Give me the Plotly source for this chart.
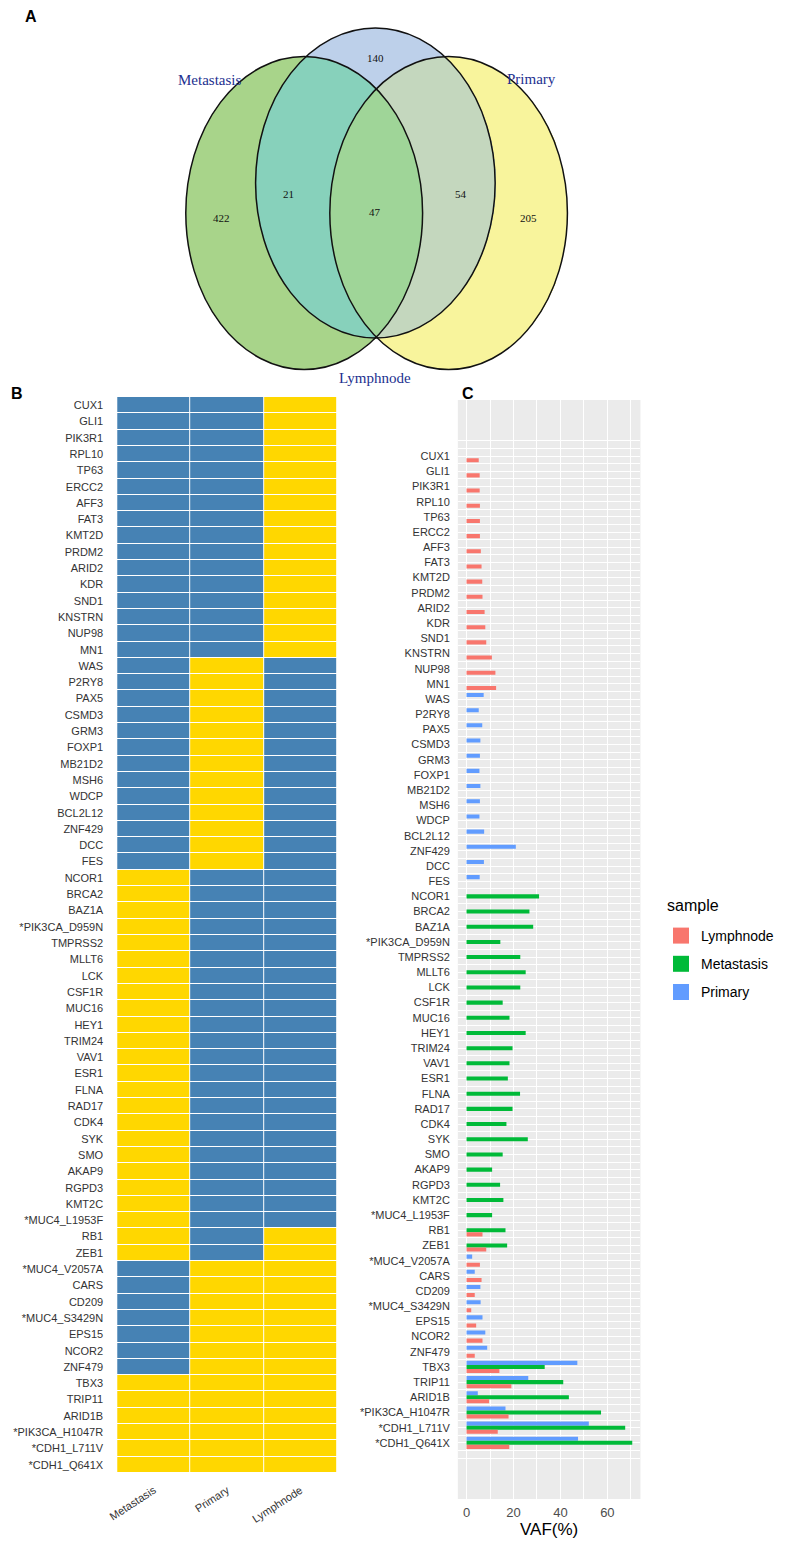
import numpy as np
import plotly.graph_objects as go

# ---------------- data ----------------
genes = [
    "CUX1", "GLI1", "PIK3R1", "RPL10", "TP63", "ERCC2", "AFF3", "FAT3", "KMT2D", "PRDM2",
    "ARID2", "KDR", "SND1", "KNSTRN", "NUP98", "MN1",
    "WAS", "P2RY8", "PAX5", "CSMD3", "GRM3", "FOXP1", "MB21D2", "MSH6", "WDCP", "BCL2L12",
    "ZNF429", "DCC", "FES",
    "NCOR1", "BRCA2", "BAZ1A", "*PIK3CA_D959N", "TMPRSS2", "MLLT6", "LCK", "CSF1R", "MUC16",
    "HEY1", "TRIM24", "VAV1", "ESR1", "FLNA", "RAD17", "CDK4", "SYK", "SMO", "AKAP9", "RGPD3",
    "KMT2C", "*MUC4_L1953F",
    "RB1", "ZEB1",
    "*MUC4_V2057A", "CARS", "CD209", "*MUC4_S3429N", "EPS15", "NCOR2", "ZNF479",
    "TBX3", "TRIP11", "ARID1B", "*PIK3CA_H1047R", "*CDH1_L711V", "*CDH1_Q641X",
]
N = None
vaf_lymphnode = [
    5.2, 5.6, 5.6, 5.7, 5.7, 5.7, 6.1, 6.4, 6.7, 6.8, 7.7, 8.0, 8.4, 10.8, 12.3, 12.6,
    N, N, N, N, N, N, N, N, N, N, N, N, N,
    N, N, N, N, N, N, N, N, N, N, N, N, N, N, N, N, N, N, N, N, N, N,
    6.8, 8.4,
    5.7, 6.4, 3.5, 2.0, 4.1, 6.8, 3.5,
    14.0, 19.1, 9.6, 17.9, 13.3, 18.2,
]
vaf_metastasis = [
    N, N, N, N, N, N, N, N, N, N, N, N, N, N, N, N,
    N, N, N, N, N, N, N, N, N, N, N, N, N,
    30.9, 26.8, 28.4, 14.4, 22.9, 25.2, 22.9, 15.4, 18.3, 25.2, 19.6, 18.3, 17.6, 22.8, 19.6,
    17.0, 26.1, 15.4, 10.9, 14.3, 15.7, 10.9,
    16.6, 17.3,
    N, N, N, N, N, N, N,
    33.3, 41.2, 43.6, 57.3, 67.6, 70.6,
]
vaf_primary = [
    N, N, N, N, N, N, N, N, N, N, N, N, N, N, N, N,
    7.3, 5.2, 6.7, 5.9, 5.7, 5.5, 5.9, 5.7, 5.5, 7.5, 21.0, 7.4, 5.6,
    N, N, N, N, N, N, N, N, N, N, N, N, N, N, N, N, N, N, N, N, N, N,
    N, N,
    2.4, 3.5, 5.9, 6.0, 6.8, 8.0, 8.8,
    47.2, 26.3, 4.8, 16.6, 52.1, 47.5,
]
heat_columns = ["Metastasis", "Primary", "Lymphnode"]
x_ticks = [0, 20, 40, 60]

venn_sets = ["Metastasis", "Lymphnode", "Primary"]
venn_region_names = ["Metastasis", "Lymphnode", "Primary",
                     "Metastasis&Lymphnode", "All", "Lymphnode&Primary"]
venn_region_counts = [422, 140, 205, 21, 47, 54]

# ---------------- styling / layout ----------------
PAGE_W, PAGE_H = 787, 1551
OFF = 8                      # default page body margin
W, H = PAGE_W - 2 * OFF, PAGE_H - 2 * OFF
FONT = "Liberation Sans, Arial, sans-serif"
SERIF = "Liberation Serif, Times New Roman, serif"
TXT = "#333333"
sample_colors = {"Lymphnode": "#F8766D", "Metastasis": "#00BA38", "Primary": "#619CFF"}


def px(p):  # page pixel x -> paper
    return (p - OFF) / W


def py(p):  # page pixel y (from top) -> paper
    return 1 - (p - OFF) / H


fig = go.Figure()

# ---------- Panel A: Venn (geometry only, counts from lists) ----------
ell = {  # cx, cy, rx, ry in page pixels
    "Metastasis": (300.5, 213.0, 120.6, 156.5),
    "Lymphnode": (373.0, 183.0, 122.0, 155.0),
    "Primary": (447.6, 213.0, 121.0, 156.5),
}
gx = np.arange(170, 582) + 0.5
gy = np.arange(18, 380) + 0.5
XX, YY = np.meshgrid(gx, gy)
code = np.zeros_like(XX, dtype=int)
for bit, s in zip([1, 2, 4], venn_sets):
    cx, cy, rx, ry = ell[s]
    inside = ((XX - cx) / rx) ** 2 + ((YY - cy) / ry) ** 2 <= 1
    code += bit * inside
zc = np.where(code == 0, np.nan, code).astype(float)
region_cols = ["#A8D48A", "#BDD0EA", "#87D1BB", "#F8F49C", "#C2DA92", "#C4D7BE", "#9FD598"]
cs = []
for k, c in enumerate(region_cols):
    cs.append([k / 7, c])
    cs.append([(k + 1) / 7, c])
fig.add_trace(go.Heatmap(z=zc, x=gx, y=gy, colorscale=cs, zmin=0.5, zmax=7.5,
                         showscale=False, hoverinfo="skip", xaxis="x3", yaxis="y3",
                         zsmooth=False, showlegend=False))
shapes = []
for s in venn_sets:
    cx, cy, rx, ry = ell[s]
    shapes.append(dict(type="circle", xref="x3", yref="y3", x0=cx - rx, x1=cx + rx,
                       y0=cy - ry, y1=cy + ry, line=dict(color="#111111", width=1.5),
                       fillcolor="rgba(0,0,0,0)", layer="above"))

count_pos = {
    "Metastasis": (216, 218), "Lymphnode": (373, 58), "Primary": (529, 218),
    "Metastasis&Lymphnode": (285, 194), "All": (373, 212), "Lymphnode&Primary": (460, 194),
}
set_label_pos = {"Metastasis": (204, 80), "Primary": (532, 79), "Lymphnode": (373, 378)}
annotations = []
for name, cnt in zip(venn_region_names, venn_region_counts):
    x, y = count_pos[name]
    annotations.append(dict(x=x, y=y, xref="x3", yref="y3", text=str(cnt), showarrow=False,
                            font=dict(family=SERIF, size=11, color="#111111")))
for s in venn_sets:
    x, y = set_label_pos[s]
    annotations.append(dict(x=x, y=y, xref="x3", yref="y3", text=s, showarrow=False,
                            font=dict(family=SERIF, size=15, color="#23308F")))

# ---------- Panel B: presence heatmap ----------
z_presence = [[0 if v is None else 1 for v in row]
              for row in zip(vaf_metastasis, vaf_primary, vaf_lymphnode)]
fig.add_trace(go.Heatmap(z=z_presence, x=heat_columns, y=genes,
                         colorscale=[[0, "#4682B4"], [1, "#FFD700"]], zmin=0, zmax=1,
                         showscale=False, xgap=1, ygap=1, hoverinfo="skip",
                         xaxis="x", yaxis="y", showlegend=False))

# ---------- Panel C: VAF bars ----------
idx = list(range(len(genes)))
rank = {"Lymphnode": 1, "Metastasis": 2, "Primary": 3}
for name, vals in [("Primary", vaf_primary), ("Metastasis", vaf_metastasis),
                   ("Lymphnode", vaf_lymphnode)]:
    fig.add_trace(go.Bar(x=vals, y=idx, orientation="h", name=name,
                         marker=dict(color=sample_colors[name], line=dict(width=0)),
                         xaxis="x2", yaxis="y2", showlegend=False, hoverinfo="skip"))
# legend keys (square swatches like ggplot's fill legend)
for name in ["Lymphnode", "Metastasis", "Primary"]:
    fig.add_trace(go.Scatter(x=[None], y=[None], mode="markers", name=name,
                             marker=dict(symbol="square", size=16, color=sample_colors[name]),
                             xaxis="x2", yaxis="y2", legendgroup=name, showlegend=True,
                             legendrank=rank[name]))

shapes.append(dict(type="rect", xref="x2 domain", yref="y2 domain", x0=0, x1=1, y0=0, y1=1,
                   fillcolor="#EBEBEB", line=dict(width=0), layer="below"))

# legend title (ggplot style)
annotations.append(dict(x=px(668), y=py(905), xref="paper", yref="paper", text="sample",
                        showarrow=False, xanchor="left", yanchor="middle",
                        font=dict(family=FONT, size=16, color="#000")))

# panel letters
for letter, (lx, ly) in {"A": (22, 17), "B": (8, 394), "C": (467, 394)}.items():
    annotations.append(dict(x=px(lx), y=py(ly), xref="paper", yref="paper", text="<b>%s</b>" % letter,
                            showarrow=False, font=dict(family=FONT, size=16, color="#000"),
                            xanchor="center", yanchor="middle"))

fig.update_layout(
    width=W, height=H, autosize=False,
    margin=dict(l=0, r=0, t=0, b=0),
    paper_bgcolor="white", plot_bgcolor="white",
    font=dict(family=FONT, color=TXT),
    barmode="group", bargap=0.2,
    shapes=shapes, annotations=annotations,
    showlegend=True,
    legend=dict(x=px(664), y=py(920), xanchor="left", yanchor="top",
                font=dict(family=FONT, size=14, color="#000"),
                traceorder="grouped", tracegroupgap=7, bgcolor="rgba(0,0,0,0)",
                itemsizing="trace", itemclick=False),
    # panel A axes (page-pixel coordinates)
    xaxis3=dict(domain=[0, 1], range=[OFF, OFF + W], visible=False, fixedrange=True),
    yaxis3=dict(domain=[py(390), 1], range=[390, OFF], visible=False, fixedrange=True),
    # panel B axes
    xaxis=dict(domain=[px(110), px(334)], type="category", categoryorder="array",
               categoryarray=heat_columns, tickangle=-33, showgrid=False, zeroline=False,
               showline=False, ticks="", ticklabelstandoff=8,
               tickfont=dict(family=FONT, size=11, color=TXT), anchor="y"),
    yaxis=dict(domain=[py(1473), py(397)], type="category", categoryorder="array",
               categoryarray=genes, autorange="reversed", showgrid=False, zeroline=False,
               showline=False, ticks="", ticklabelstandoff=13,
               tickfont=dict(family=FONT, size=11, color=TXT), anchor="x"),
    # panel C axes
    xaxis2=dict(domain=[px(457), px(643)], range=[-3.7, 74.1], tickmode="array",
                tickvals=x_ticks, showgrid=True, gridcolor="white", gridwidth=1.1,
                minor=dict(tickmode="array", tickvals=[10, 30, 50, 70], showgrid=True,
                           gridcolor="white", gridwidth=0.7),
                zeroline=False, showline=False, ticks="", ticklabelstandoff=4,
                tickfont=dict(family=FONT, size=13, color="#4D4D4D"),
                title=dict(text="VAF(%)", font=dict(family=FONT, size=17, color="#000"),
                           standoff=2),
                anchor="y2"),
    yaxis2=dict(domain=[py(1499), py(400)], range=[68.7, -3.7], tickmode="array",
                tickvals=list(range(-1, len(genes) + 1)),
                ticktext=[""] + genes + [""],
                showgrid=True, gridcolor="white", gridwidth=1,
                minor=dict(tickmode="array", tickvals=[k + 0.5 for k in range(-1, len(genes))],
                           showgrid=True, gridcolor="white", gridwidth=0.7),
                zeroline=False, showline=False, ticks="", ticklabelstandoff=7,
                tickfont=dict(family=FONT, size=11, color=TXT), anchor="x2"),
)

fig.write_html("out.html")
